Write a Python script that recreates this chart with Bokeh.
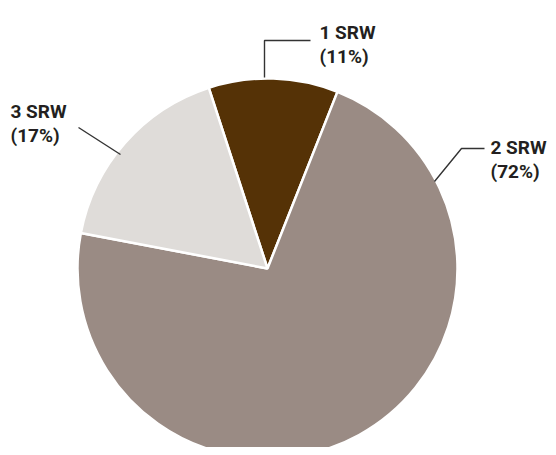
import math
from bokeh.plotting import figure
from bokeh.models import Range1d, ColumnDataSource
from bokeh.core.properties import value
from bokeh.embed import file_html
from bokeh.resources import INLINE

# Data
categories = ["1 SRW", "2 SRW", "3 SRW"]
shares = [11, 72, 17]
colors = ["#553206", "#9a8b84", "#dfdcd9"]

# Layout (image pixel coordinates; y is negated)
W, H = 548, 447
cx, cy, r = 267, -268, 190
start_deg = 108  # first slice starts here and runs clockwise

total = sum(shares)
starts, ends = [], []
acc = 0
for s in shares:
    a0 = start_deg - acc / total * 360
    acc += s
    a1 = start_deg - acc / total * 360
    starts.append(math.radians(a0))
    ends.append(math.radians(a1))

p = figure(width=W, height=H, output_backend="svg", toolbar_location=None,
           x_range=Range1d(0, W), y_range=Range1d(-H, 0),
           x_axis_type=None, y_axis_type=None, min_border=0,
           outline_line_color=None, background_fill_color="white")
p.grid.visible = False

src = ColumnDataSource(dict(x=[cx] * 3, y=[cy] * 3, start=starts, end=ends,
                            color=colors, cat=categories))
p.wedge(x="x", y="y", radius=r, start_angle="start", end_angle="end",
        direction="clock", fill_color="color", line_color="white",
        line_width=2.5, source=src)

# Leader lines (image coords)
leaders = {
    "1 SRW": ([264, 264, 310], [77, 40, 40]),
    "2 SRW": ([434, 461, 484], [181, 148, 148]),
    "3 SRW": ([120, 78], [154, 127]),
}
for cat in categories:
    xs, ys = leaders[cat]
    p.line(xs, [-y for y in ys], line_color="#333333", line_width=1.4)

# Labels
label_pos = {"1 SRW": (319, 32), "2 SRW": (490, 147), "3 SRW": (10, 111)}
lx, ly1, ly2, t1, t2 = [], [], [], [], []
for cat, s in zip(categories, shares):
    x, y = label_pos[cat]
    lx.append(x)
    ly1.append(-y)
    ly2.append(-(y + 24))
    t1.append(cat)
    t2.append(f"({s}%)")

for ys, ts in ((ly1, t1), (ly2, t2)):
    p.text(x=lx, y=ys, text=ts, text_font=value("Roboto"),
           text_font_style="bold", text_font_size="19px",
           text_color="#231f20", text_baseline="alphabetic", text_align="left")

open("out.html", "w").write(file_html(p, INLINE))
